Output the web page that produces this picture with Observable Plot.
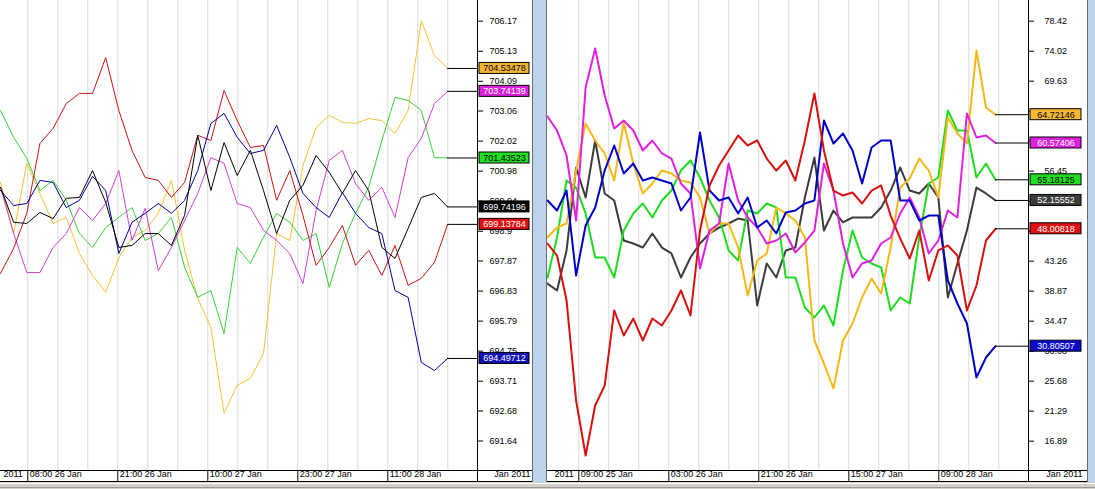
<!DOCTYPE html>
<html><head><meta charset="utf-8">
<script src="https://cdn.jsdelivr.net/npm/d3@7"></script>
<script src="https://cdn.jsdelivr.net/npm/@observablehq/plot@0.6"></script>
<style>
html,body{margin:0;padding:0;background:#d4d0c8;}
#wrap{position:relative;width:1095px;height:489px;overflow:hidden;background:#d4d0c8;}
.pane{position:absolute;top:0;height:482px;overflow:hidden;background:#fff}
.bar{position:absolute;top:0;height:482px}
</style></head><body>
<div id="wrap">
 <div class="pane" id="left" style="left:0;width:532px"></div>
 <div class="bar" style="left:532px;width:1px;background:#6d6d6d"></div>
 <div class="bar" style="left:533px;width:13px;background:#bcd3ec"></div>
 <div class="bar" style="left:546px;width:1px;background:#6d6d6d"></div>
 <div class="pane" id="right" style="left:547px;width:540px"></div>
 <div class="bar" style="left:1087px;width:1px;background:#6d6d6d"></div>
 <div class="bar" style="left:1088px;width:7px;background:#bcd3ec"></div>
 <div style="position:absolute;left:0;top:483px;width:1095px;height:1px;background:#fff"></div>
 <div style="position:absolute;left:0;top:487px;width:1095px;height:1px;background:#9a9a9a"></div>
</div>
<script>
// ---------- LEFT PANEL DATA (2-hour samples) ----------
const leftYellow  = [700.59,698.82,701.25,700.21,699.17,699.38,698.13,697.37,696.78,697.99,698.69,698.93,699.52,700.66,698.24,696.58,695.57,692.60,693.57,693.81,694.67,698.82,698.58,701.18,702.49,702.91,702.67,702.63,702.80,702.73,702.28,703.08,706.19,704.98,704.53478];
const leftGreen   = [703.08,702.15,701.42,700.31,700.66,699.97,698.82,698.34,699.03,699.38,699.72,698.58,698.82,699.38,697.65,696.61,696.85,695.36,698.34,697.79,698.69,699.52,699.21,698.58,698.82,696.96,698.48,699.52,700.42,702.04,703.53,703.43,703.08,701.45,701.43523];
const leftMagenta = [700.42,698.82,697.47,697.47,698.34,698.82,699.72,699.27,699.86,701.00,698.58,699.69,697.54,698.34,699.27,700.21,701.45,701.25,699.86,699.72,698.93,698.58,698.13,697.09,699.62,701.35,701.70,700.55,699.97,700.42,699.38,701.45,702.11,703.32,703.74139];
const leftRed     = [697.44,698.31,699.52,701.94,702.46,703.32,703.67,703.67,704.91,703.08,701.70,700.76,700.66,700.07,700.59,702.22,702.04,703.77,702.73,701.80,701.87,699.97,701.00,699.45,697.72,698.34,699.10,697.72,698.24,697.37,698.41,697.03,697.27,697.82,699.13784];
const leftBlue    = [700.31,699.79,699.86,700.66,700.59,699.72,699.97,700.80,700.31,698.13,699.21,699.52,699.86,699.52,699.97,701.00,702.63,702.98,702.15,701.59,701.70,702.56,701.45,700.21,699.72,699.38,700.24,699.52,699.03,698.82,696.85,696.61,694.36,694.08,694.49712];
const leftBlack   = [700.42,699.21,699.17,699.55,699.34,700.04,700.07,701.00,699.90,698.34,698.41,698.82,698.82,698.41,699.45,702.22,700.31,701.97,700.83,701.70,700.31,698.82,699.97,700.49,701.52,700.94,700.21,701.00,700.31,698.34,697.96,699.00,700.07,700.21,699.74196];
const leftTicks = [706.17,705.13,704.09,703.06,702.02,700.98,699.94,698.9,697.87,696.83,695.79,694.75,693.71,692.68,691.64];
const leftTickLabels = ["706.17","705.13","704.09","703.06","702.02","700.98","699.94","698.9","697.87","696.83","695.79","694.75","693.71","692.68","691.64"];
const leftTimeLabels = ["08:00 26 Jan","21:00 26 Jan","10:00 27 Jan","23:00 27 Jan","11:00 28 Jan"];

// ---------- RIGHT PANEL DATA (2-hour samples) ----------
const rightYellow  = [46.73,48.19,48.78,56.54,63.43,60.94,59.04,55.08,63.58,57.57,53.18,54.64,56.54,56.11,55.08,54.79,52.59,47.32,48.78,48.78,45.26,38.23,43.36,44.39,51.12,50.25,49.22,46.73,31.64,28.27,24.61,31.64,34.13,37.94,40.72,38.53,45.26,54.05,55.37,58.30,56.54,52.59,64.31,61.97,60.50,74.12,65.77,64.72146];
const rightMagenta = [64.46,62.40,58.74,49.22,68.70,74.42,67.53,62.70,63.87,62.40,59.47,60.94,59.04,58.30,54.64,53.18,42.19,47.75,48.78,57.57,52.15,49.66,48.19,45.85,46.29,47.32,44.53,46.00,47.75,57.57,53.61,45.85,40.87,42.92,43.36,45.85,46.73,50.25,52.59,49.66,44.39,46.29,50.68,49.66,64.90,61.38,61.67,60.57406];
const rightGreen   = [40.87,46.73,55.08,54.05,50.25,43.80,43.80,40.87,47.75,50.25,51.71,49.66,52.15,53.61,56.54,58.01,55.52,52.15,49.66,44.83,43.36,50.68,50.25,51.71,51.12,40.87,40.87,36.47,35.01,36.77,33.84,41.90,47.75,43.80,42.92,42.33,36.04,37.94,37.06,46.73,54.64,55.52,65.34,62.41,62.41,55.52,57.57,55.18125];
const rightGray    = [39.99,38.96,44.83,56.98,52.59,60.94,53.18,52.15,46.29,45.85,45.26,47.32,45.26,44.39,40.87,43.80,45.85,47.32,48.19,48.78,49.51,49.22,36.77,42.92,40.87,44.83,45.26,52.59,58.45,47.75,50.68,48.93,49.66,49.66,49.66,51.12,53.61,56.98,53.61,53.18,54.64,52.59,37.94,42.92,47.75,54.05,53.18,52.15552];
const rightRed     = [45.85,44.09,37.50,22.85,14.79,22.12,25.05,36.04,32.37,34.86,31.64,34.86,33.84,36.04,38.97,35.30,47.75,54.35,57.28,59.47,61.67,60.21,60.94,58.30,56.54,58.01,55.08,60.94,67.83,59.47,53.61,52.88,53.32,51.71,53.61,54.35,49.95,46.58,43.65,47.75,40.43,44.83,45.56,44.09,36.04,39.70,46.29,48.00818];
const rightBlue    = [52.15,50.68,53.61,41.16,48.49,51.12,56.54,60.21,56.11,57.57,55.08,55.52,55.08,54.64,50.68,52.59,62.11,53.61,52.15,52.59,50.25,52.59,48.19,49.22,47.32,50.39,50.68,51.71,52.15,63.87,60.50,61.97,59.47,54.64,59.91,60.94,60.94,52.15,52.15,49.22,49.95,49.95,40.43,37.06,34.13,26.22,29.15,30.80507];
const rightTicks = [78.42,74.02,69.63,65.24,60.84,56.45,52.05,47.66,43.26,38.87,34.47,30.08,25.68,21.29,16.89];
const rightTickLabels = ["78.42","74.02","69.63","65.24","60.84","56.45","52.05","47.66","43.26","38.87","34.47","30.08","25.68","21.29","16.89"];
const rightTimeLabels = ["09:00 25 Jan","03:00 26 Jan","21:00 26 Jan","15:00 27 Jan","09:00 28 Jan"];

function panel(cfg) {
  const {series, width, marginRight, xMax, yDomain, ticks, tickLabels, grid, timeLabels,
         lineWidth, badgeW, tickPadding, janDx} = cfg;
  const last = series.map(s => ({i: s.values.length - 1, v: s.values[s.values.length - 1], badge: s.badge, ink: s.ink}));
  const seps = [grid[0], grid[3], grid[6], grid[9], grid[12], xMax];
  const labels = timeLabels.map((label, k) => ({x: grid[3 * k], label}));
  const yMin = yDomain[0];
  // a tick label that sits fully behind a value badge is not visible: skip its text
  const perPx = (yDomain[1] - yDomain[0]) / 470;
  const hidden = t => last.some(d => Math.abs(d.v - t) < 4 * perPx);
  return Plot.plot({
    width, height: 482, marginTop: 0, marginBottom: 12, marginLeft: 0, marginRight,
    x: {domain: [0, xMax]},
    y: {domain: yDomain},
    color: {type: "identity"},
    style: {fontFamily: "'Liberation Sans', Arial, sans-serif", fontSize: "9px", background: "#fff", overflow: "hidden", color: "#000"},
    marks: [
      Plot.ruleX(grid, {stroke: "#d9d9d9"}),
      ...series.map(s => Plot.line(s.values, {x: (d, i) => i, y: d => d, stroke: s.color, strokeWidth: lineWidth})),
      Plot.ruleY(last, {y: "v", x1: "i", x2: xMax, stroke: "#000"}),
      Plot.ruleX([xMax], {stroke: "#000"}),
      Plot.axisY({anchor: "right", ticks, tickFormat: d => hidden(d) ? "" : tickLabels[ticks.indexOf(d)], tickSize: 5, tickPadding, label: null, fontSize: 9}),
      Plot.rect(last, {x1: xMax, x2: xMax, y1: "v", y2: "v", insetLeft: 2, insetRight: -(badgeW + 2), insetTop: -5.5, insetBottom: -5.5, fill: "badge", stroke: "#000"}),
      Plot.text(last, {x: xMax, y: "v", dx: 2 + badgeW / 2, text: d => d.v.toFixed(5), fill: "ink", fontSize: 9}),
      Plot.ruleY([yMin], {stroke: "#000"}),
      Plot.ruleY([yMin], {stroke: "#000", dx: marginRight}),
      Plot.ruleY([yMin], {stroke: "#000", dy: 11}),
      Plot.ruleY([yMin], {stroke: "#000", dy: 11, dx: marginRight}),
      Plot.axisX({anchor: "bottom", ticks: seps, tickSize: 11, tickFormat: () => "", label: null}),
      Plot.text(labels, {x: "x", text: "label", frameAnchor: "bottom", textAnchor: "start", dx: 2, dy: 6, fontSize: 9}),
      Plot.text([{x: grid[0], t: "2011"}], {x: "x", text: "t", frameAnchor: "bottom", textAnchor: "end", dx: -5, dy: 6, fontSize: 9}),
      Plot.text([{x: xMax, t: "Jan 2011"}], {x: "x", text: "t", frameAnchor: "bottom", textAnchor: "end", dx: janDx, dy: 6, fontSize: 9})
    ]
  });
}

const leftGrid = d3.range(15).map(k => 2.076 + 2.2814 * k);
document.getElementById("left").append(panel({
  series: [
    {values: leftYellow, color: "#f2c232", badge: "#f6b434", ink: "#000"},
    {values: leftGreen, color: "#36d236", badge: "#22dd22", ink: "#000"},
    {values: leftMagenta, color: "#d23cd2", badge: "#e020e0", ink: "#fff"},
    {values: leftRed, color: "#c81414", badge: "#dd1111", ink: "#fff"},
    {values: leftBlue, color: "#00009c", badge: "#1010b8", ink: "#fff"},
    {values: leftBlack, color: "#000000", badge: "#000000", ink: "#fff"}
  ],
  width: 532, marginRight: 55, xMax: 36.274, yDomain: [690.62, 706.886],
  ticks: leftTicks, tickLabels: leftTickLabels, grid: leftGrid, timeLabels: leftTimeLabels,
  lineWidth: 1, badgeW: 50, tickPadding: 7, janDx: 53
}));

const rightGrid = d3.range(15).map(k => 3.284 + 3.1473 * k);
document.getElementById("right").append(panel({
  series: [
    {values: rightGray, color: "#3c3c3c", badge: "#3c3c3c", ink: "#fff"},
    {values: rightGreen, color: "#1edc1e", badge: "#22dd22", ink: "#000"},
    {values: rightYellow, color: "#f5b816", badge: "#f6b834", ink: "#000"},
    {values: rightMagenta, color: "#e020e0", badge: "#e020e0", ink: "#fff"},
    {values: rightBlue, color: "#0000c8", badge: "#0a0acc", ink: "#fff"},
    {values: rightRed, color: "#d81010", badge: "#dd1111", ink: "#fff"}
  ],
  width: 540, marginRight: 59, xMax: 50.46, yDomain: [12.595, 81.45],
  ticks: rightTicks, tickLabels: rightTickLabels, grid: rightGrid, timeLabels: rightTimeLabels,
  lineWidth: 2, badgeW: 51, tickPadding: 11, janDx: 54
}));
</script>
</body></html>
